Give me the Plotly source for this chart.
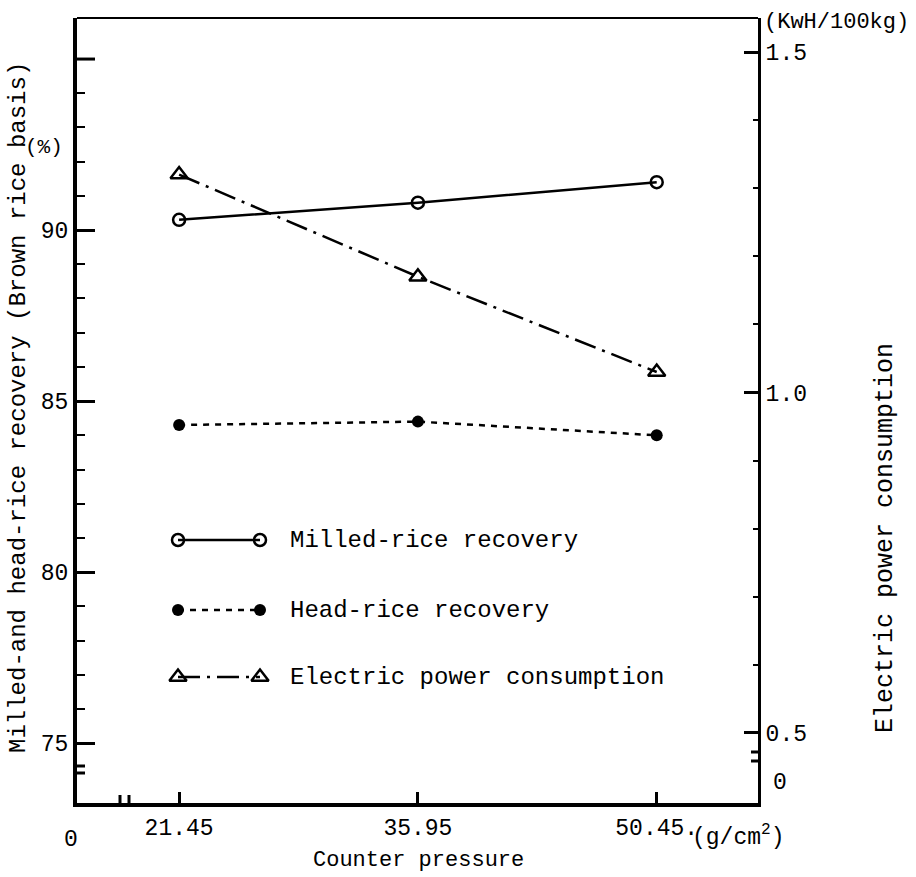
import plotly.graph_objects as go

# ---------------- data ----------------
pressure = [21.45, 35.95, 50.45]
pressure_labels = ["21.45", "35.95", "50.45."]
milled_rice = [90.3, 90.8, 91.4]
head_rice = [84.3, 84.4, 84.0]
power = [1.32, 1.17, 1.03]

left_major = [75, 80, 85, 90]
left_major_labels = ["75", "80", "85", "90"]
left_unlabelled_tick = 95
left_minor = [76, 77, 78, 79, 81, 82, 83, 84, 86, 87, 88, 89, 91, 92, 93, 94]
right_major = [0.5, 1.0, 1.5]
right_major_labels = ["0.5", "1.0", "1.5"]
right_minor = [0.6, 0.7, 0.8, 0.9, 1.1, 1.2, 1.3, 1.4]

series_names = ["Milled-rice recovery", "Head-rice recovery", "Electric power consumption"]

# ---------------- layout constants (pixels) ----------------
W, H = 916, 877
L, R, T, B = 77, 758, 18, 803
FONT = "Liberation Mono, Courier New, monospace"
BLK = "black"

def px(x):
    return (x - L) / (R - L)

def py(y):
    return (B - y) / (B - T)

fig = go.Figure()

fig.add_trace(go.Scatter(
    x=pressure, y=milled_rice, mode="lines+markers", name=series_names[0],
    line=dict(color=BLK, width=2.5),
    marker=dict(symbol="circle-open", size=12, color=BLK, line=dict(width=2.5)),
    xaxis="x", yaxis="y", showlegend=False))
fig.add_trace(go.Scatter(
    x=pressure, y=head_rice, mode="lines+markers", name=series_names[1],
    line=dict(color=BLK, width=2.5, dash="6px,6px"),
    marker=dict(symbol="circle", size=12, color=BLK),
    xaxis="x", yaxis="y", showlegend=False))
fig.add_trace(go.Scatter(
    x=pressure, y=power, mode="lines+markers", name=series_names[2],
    line=dict(color=BLK, width=2.5, dash="22px,7px,3px,7px"),
    marker=dict(symbol="triangle-up-open", size=15, color=BLK, line=dict(width=2.5)),
    xaxis="x", yaxis="y2", showlegend=False))

# ---------------- hand-drawn style legend (pixel overlay axes) ----------------
leg_rows = [540, 610, 677]
leg_x0, leg_x1, leg_tx = 178, 260, 288
leg_styles = [
    (dict(color=BLK, width=2.5), dict(symbol="circle-open", size=12, color=BLK, line=dict(width=2.5))),
    (dict(color=BLK, width=2.5, dash="6px,6px"), dict(symbol="circle", size=12, color=BLK)),
    (dict(color=BLK, width=2.5, dash="22px,7px,3px,7px"),
     dict(symbol="triangle-up-open", size=15, color=BLK, line=dict(width=2.5))),
]
annotations = []
for yy, name, (ln, mk) in zip(leg_rows, series_names, leg_styles):
    fig.add_trace(go.Scatter(x=[leg_x0, leg_x1], y=[yy, yy], mode="lines+markers",
                             line=ln, marker=mk, xaxis="x3", yaxis="y3",
                             showlegend=False, hoverinfo="skip"))
    annotations.append(dict(x=px(leg_tx), y=py(yy), xref="paper", yref="paper", text=name,
                            showarrow=False, xanchor="left", yanchor="middle",
                            font=dict(family=FONT, size=24, color=BLK)))

# ---------------- text annotations ----------------
def ann(x, y, text, size=22, angle=0, xanchor="center", yanchor="middle"):
    annotations.append(dict(x=px(x), y=py(y), xref="paper", yref="paper", text=text,
                            showarrow=False, textangle=angle, xanchor=xanchor,
                            yanchor=yanchor, font=dict(family=FONT, size=size, color=BLK)))

ann(18, 408, "Milled-and head-rice recovery (Brown rice basis)", size=24, angle=-90)
ann(44, 148, "(%)", size=21)
ann(885, 538, "Electric power consumption", size=25, angle=-90)
ann(762, 22, "(KwH/100kg)", size=22, xanchor="left")
ann(71, 840, "0", size=23)
ann(771, 783, "0", size=23, xanchor="left")
ann(690, 836, "(g/cm<sup>2</sup>)", size=23, xanchor="left")
ann(418, 860, "Counter pressure", size=22)
fig.update_layout(annotations=annotations)

# ---------------- axis break marks, extra tick and top frame ----------------
shapes = []
def seg(x0, y0, x1, y1, w=3, color=BLK):
    shapes.append(dict(type="line", x0=x0, y0=y0, x1=x1, y1=y1, xref="x3", yref="y3",
                       line=dict(color=color, width=w), layer="above"))
def rect(x0, y0, x1, y1):
    shapes.append(dict(type="rect", x0=x0, y0=y0, x1=x1, y1=y1, xref="x3", yref="y3",
                       fillcolor="white", line=dict(width=0), layer="above"))

shapes.append(dict(type="line", x0=0, x1=1, y0=1, y1=1, xref="paper", yref="paper",
                   line=dict(color=BLK, width=2), layer="above"))
# unlabelled long tick at the top of the left axis
shapes.append(dict(type="line", x0=0, x1=18 / (R - L), y0=left_unlabelled_tick,
                   y1=left_unlabelled_tick, xref="paper", yref="y",
                   line=dict(color=BLK, width=3), layer="above"))
# left axis break
rect(L - 5, 767, L + 5, 772)
seg(L - 8, 766, L + 8, 766)
seg(L - 8, 773, L + 8, 773)
# right axis break
rect(R - 5, 753, R + 5, 760)
seg(R - 7, 752, R + 7, 752)
seg(R - 7, 761, R + 7, 761)
# x axis break
rect(121, B - 5, 128, B + 5)
seg(120, B - 8, 120, B + 8)
seg(129, B - 8, 129, B + 8)
fig.update_layout(shapes=shapes)

axis_common = dict(showgrid=False, zeroline=False, showline=True, linecolor=BLK,
                   tickcolor=BLK, ticks="inside", fixedrange=True,
                   tickfont=dict(family=FONT, size=23, color=BLK))

fig.update_layout(
    width=W, height=H,
    margin=dict(l=L, r=W - R, t=T, b=H - B, autoexpand=False),
    paper_bgcolor="white", plot_bgcolor="white",
    showlegend=False,
    xaxis=dict(**axis_common, range=[15.25, 56.6], linewidth=4, ticklen=11, tickwidth=3,
               tickmode="array", tickvals=pressure, ticktext=pressure_labels),
    yaxis=dict(**axis_common, range=[73.25, 96.2], linewidth=4, ticklen=18, tickwidth=3,
               tickmode="array", tickvals=left_major, ticktext=left_major_labels,
               minor=dict(ticks="inside", tickmode="array", tickvals=left_minor,
                          ticklen=8, tickwidth=2, tickcolor=BLK, showgrid=False)),
    yaxis2=dict(**axis_common, range=[0.397, 1.55], overlaying="y", side="right",
                anchor="x", linewidth=3, ticklen=14, tickwidth=3,
                tickmode="array", tickvals=right_major, ticktext=right_major_labels,
                minor=dict(ticks="inside", tickmode="array", tickvals=right_minor,
                           ticklen=5, tickwidth=2, tickcolor=BLK, showgrid=False)),
    xaxis3=dict(range=[L, R], overlaying="x", anchor="y3", visible=False, fixedrange=True),
    yaxis3=dict(range=[B, T], overlaying="y", anchor="x3", visible=False, fixedrange=True),
)

fig.write_html("out.html")
